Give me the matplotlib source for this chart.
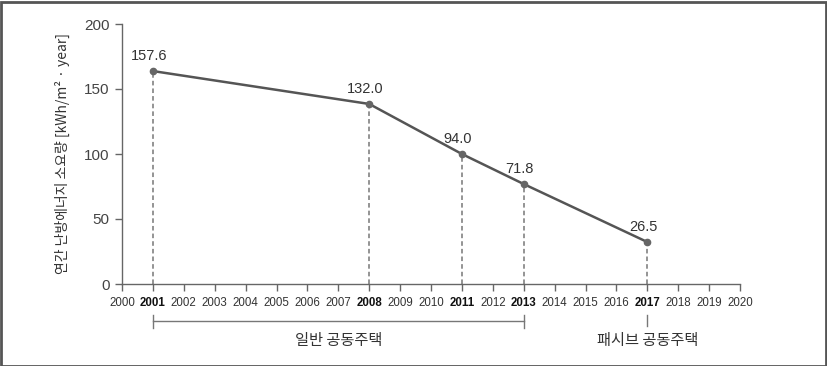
import matplotlib
matplotlib.use("Agg")
import matplotlib.pyplot as plt
from matplotlib.patches import Rectangle
import matplotlib.transforms as mtrans

plt.rcParams['font.family'] = ['Liberation Sans', 'Noto Sans CJK KR', 'DejaVu Sans']

years = [2001, 2008, 2011, 2013, 2017]
plot_values = [163.8, 138.5, 100.0, 76.9, 32.3]
value_labels = ["157.6", "132.0", "94.0", "71.8", "26.5"]
bold_years = [2001, 2008, 2011, 2013, 2017]
year_ticks = list(range(2000, 2021))
y_ticks = [0, 50, 100, 150, 200]
groups = [("일반 공동주택", 2001, 2013), ("패시브 공동주택", 2017, 2017)]
ylabel = "연간 난방에너지 소요량 [kWh/m² · year]"

W, H = 827, 366
fig = plt.figure(figsize=(W / 100, H / 100), dpi=100)
ax = fig.add_axes([122 / W, 1 - 284 / H, (740 - 122) / W, (284 - 24) / H])

txt = '#333333'
ax.plot(years, plot_values, color='#555555', lw=1.8, marker='o', ms=4.5,
        mfc='#666666', mec='#666666', zorder=3)
for x, v, lab in zip(years, plot_values, value_labels):
    ax.plot([x, x], [0, v], ls=(0, (3, 2)), color='#777777', lw=1.1, zorder=2)
    ax.annotate(lab, (x, v), xytext=(-3, 6), textcoords='offset points',
                ha='center', va='bottom', fontsize=10.5, color=txt)

ax.set_xlim(2000, 2020)
ax.set_ylim(0, 200)
ax.set_yticks(y_ticks)
ax.set_yticklabels([str(t) for t in y_ticks], fontsize=11, color='#444444')
ax.set_xticks(year_ticks)
ax.set_xticklabels([str(y) for y in year_ticks], fontsize=8.3, color=txt)
for lbl, y in zip(ax.get_xticklabels(), year_ticks):
    if y in bold_years:
        lbl.set_fontweight('bold')
        lbl.set_color('#111111')
ax.tick_params(axis='both', length=5, width=1, color='#666666', direction='out')
ax.tick_params(axis='x', pad=4)
ax.tick_params(axis='y', pad=4)
for s in ['top', 'right']:
    ax.spines[s].set_visible(False)
for s in ['left', 'bottom']:
    ax.spines[s].set_color('#666666')
    ax.spines[s].set_linewidth(1)

ax.set_ylabel(ylabel, fontsize=10, color=txt, labelpad=10,
              family=['Noto Sans CJK KR', 'DejaVu Sans'])

trans = mtrans.blended_transform_factory(ax.transData, fig.transFigure)
ybr = 1 - 321 / H
for name, x0, x1 in groups:
    if x0 != x1:
        ax.plot([x0, x1], [ybr, ybr], color='#777777', lw=1, transform=trans, clip_on=False)
        for xe in (x0, x1):
            ax.plot([xe, xe], [1 - 315 / H, 1 - 328 / H], color='#777777', lw=1,
                    transform=trans, clip_on=False)
    else:
        ax.plot([x0, x0], [1 - 315 / H, 1 - 326 / H], color='#777777', lw=1,
                transform=trans, clip_on=False)
    xc = (x0 + x1) / 2
    ax.text(xc, 1 - 340 / H, name, transform=trans, ha='center', va='center',
            fontsize=11, color=txt, family=['Noto Sans CJK KR', 'DejaVu Sans'])

fig.patches.append(Rectangle((0.5 / W, 0.5 / H), 1 - 2 / W, 1 - 2 / H,
                             transform=fig.transFigure, fill=False,
                             edgecolor='#555555', lw=2))

fig.savefig('out.png', dpi=100)
